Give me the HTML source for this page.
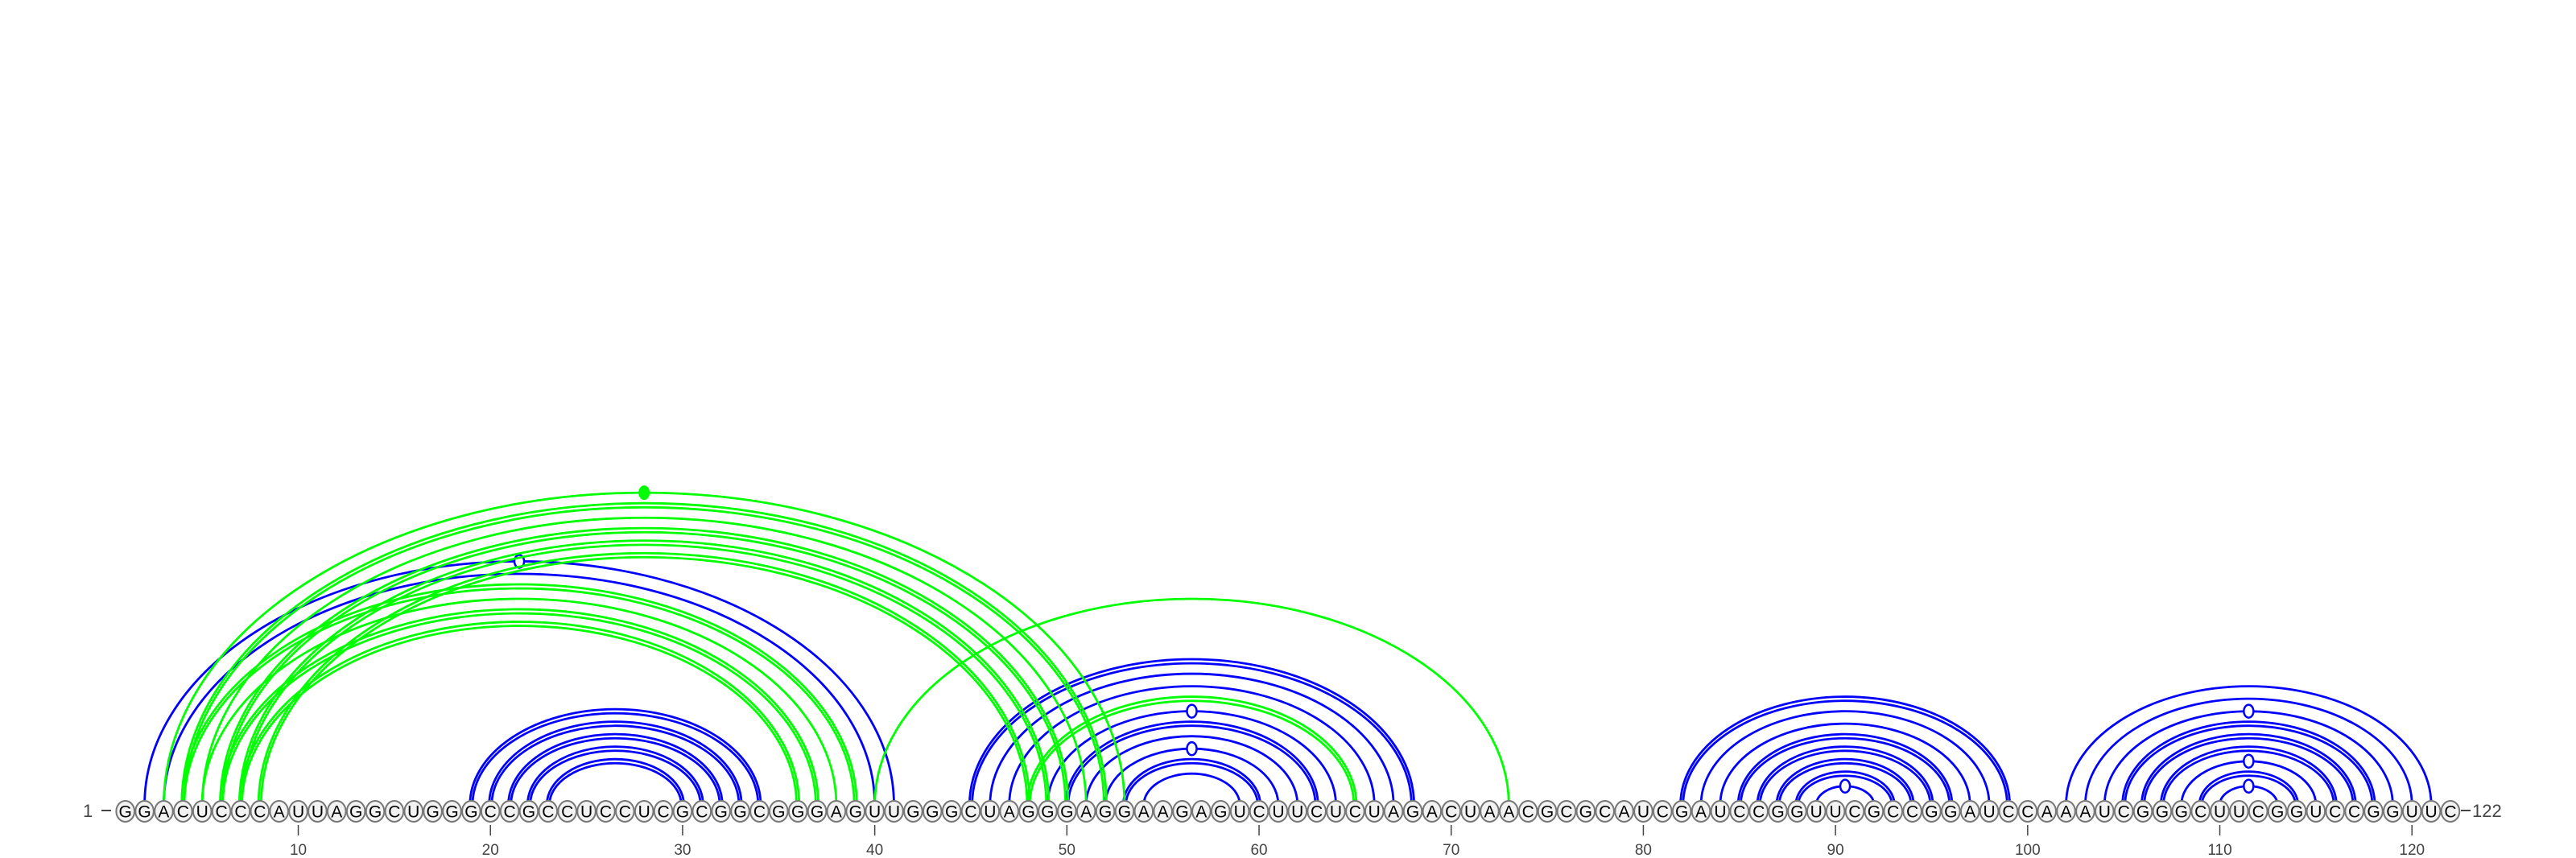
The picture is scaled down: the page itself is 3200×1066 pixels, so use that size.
<!DOCTYPE html>
<html><head><meta charset="utf-8"><style>
html,body{margin:0;padding:0;background:#fff;}
svg{display:block;}
</style></head><body>
<svg id="chart" width="3200" height="1066" viewBox="0 0 3200 1066" xmlns="http://www.w3.org/2000/svg">
<g id="arcs-blue"></g>
<g id="arcs-green"></g>
<g id="nts"></g>
<g id="ticks"></g>
<text x="103" y="1015" font-family="Liberation Sans, sans-serif" font-size="22" fill="#444">1</text>
<line x1="126" y1="1007" x2="138" y2="1007" stroke="#444" stroke-width="2"/>
<line x1="3057" y1="1007" x2="3069" y2="1007" stroke="#444" stroke-width="2"/>
<text x="3071" y="1015" font-family="Liberation Sans, sans-serif" font-size="22" fill="#444">122</text>
</svg>
<script>
const sequence = "GGACUCCCAUUAGGCUGGGCCGCCUCCUCGCGGCGGGAGUUGGGCUAGGGAGGAAGAGUCUUCUCUAGACUAACGCGCAUCGAUCCGGUUCGCCGGAUCCAAAUCGGGCUUCGGUCCGGUUC";
const blueI = [2,3,19,20,21,22,23,45,46,47,49,50,51,52,53,54,82,83,84,85,86,87,88,89,102,103,104,105,106,107,108,109,110];
const blueJ = [41,40,34,33,32,31,30,68,67,66,64,63,62,61,60,59,99,98,97,96,95,94,93,92,121,120,119,118,117,116,115,114,113];
const blueDouble = [0,0,1,1,1,1,1,1,0,0,0,1,0,0,1,0,1,0,0,1,1,1,1,0,0,0,0,1,1,1,0,1,0];
const greenI = [3,4,5,6,7,8,4,5,6,7,40,48];
const greenJ = [53,52,51,50,49,48,39,38,37,36,73,65];
const greenDouble = [0,1,0,1,1,1,1,0,1,1,0,1];
const tickValues = [10,20,30,40,50,60,70,80,90,100,110,120];

const NS="http://www.w3.org/2000/svg";
const X0=155.7, DX=23.87, BASE=1000, RATIO=0.65, NY=1008;
function xPos(i){return X0+(i-1)*DX;}
function isGU(a,b){const p=sequence[a-1]+sequence[b-1];return p==="GU"||p==="UG";}
function isCanon(a,b){const p=sequence[a-1]+sequence[b-1];return ["GC","CG","AU","UA","GU","UG"].includes(p);}
function arcPath(x1,x2,grow){
  const rx=(x2-x1)/2+grow, ry=(x2-x1)/2*RATIO+grow*1.6;
  return `M${x1-grow} ${BASE} A${rx} ${ry} 0 0 1 ${x2+grow} ${BASE}`;
}
function drawArcs(gid,I,J,D,color,prefix){
  const g=document.getElementById(gid);
  for(let k=0;k<I.length;k++){
    const x1=xPos(I[k]),x2=xPos(J[k]);
    const grows=D[k]?[-1.6,1.6]:[0];
    grows.forEach(gr=>{
      const p=document.createElementNS(NS,'path');
      p.setAttribute('d',arcPath(x1,x2,gr));
      p.setAttribute('fill','none');p.setAttribute('stroke',color);p.setAttribute('stroke-width','2.8');
      
      
      g.appendChild(p);
    });
    const cx=(x1+x2)/2, cy=BASE-(x2-x1)/2*RATIO;
    if(isGU(I[k],J[k])){
      const e=document.createElementNS(NS,'ellipse');
      e.setAttribute('cx',cx);e.setAttribute('cy',cy);e.setAttribute('rx',6);e.setAttribute('ry',8);
      e.setAttribute('fill','#fff');e.setAttribute('stroke',color);e.setAttribute('stroke-width','2.5');
      
      
      g.appendChild(e);
    } else if(!isCanon(I[k],J[k])){
      const e=document.createElementNS(NS,'ellipse');
      e.setAttribute('cx',cx);e.setAttribute('cy',cy);e.setAttribute('rx',7);e.setAttribute('ry',9);
      e.setAttribute('fill',color);
      
      
      g.appendChild(e);
    }
  }
}
drawArcs('arcs-blue',blueI,blueJ,blueDouble,'#0000ff','blue');
drawArcs('arcs-green',greenI,greenJ,greenDouble,'#00ff00','green');

const nts=document.getElementById('nts');
for(let i=1;i<=sequence.length;i++){
  const g=document.createElementNS(NS,'g');
  
  
  const e=document.createElementNS(NS,'ellipse');
  e.setAttribute('cx',xPos(i));e.setAttribute('cy',NY);e.setAttribute('rx',11.3);e.setAttribute('ry',13);
  e.setAttribute('fill','#f2f2f2');e.setAttribute('stroke','#777');e.setAttribute('stroke-width','2');
  g.appendChild(e);
  const t=document.createElementNS(NS,'text');
  t.setAttribute('x',xPos(i));t.setAttribute('y',NY+7.5);t.setAttribute('text-anchor','middle');
  t.setAttribute('font-family','Liberation Sans, sans-serif');t.setAttribute('font-size','21');t.setAttribute('fill','#000');
  t.textContent=sequence[i-1];
  g.appendChild(t);
  nts.appendChild(g);
}
const ticks=document.getElementById('ticks');
tickValues.forEach(v=>{
  const l=document.createElementNS(NS,'line');
  l.setAttribute('x1',xPos(v));l.setAttribute('x2',xPos(v));l.setAttribute('y1',1025);l.setAttribute('y2',1038);
  l.setAttribute('stroke','#444');l.setAttribute('stroke-width','1.5');
  
  
  ticks.appendChild(l);
  const t=document.createElementNS(NS,'text');
  t.setAttribute('x',xPos(v));t.setAttribute('y',1062);t.setAttribute('text-anchor','middle');
  t.setAttribute('font-family','Liberation Sans, sans-serif');t.setAttribute('font-size','19');t.setAttribute('fill','#444');
  
  
  t.textContent=v;
  ticks.appendChild(t);
});
</script>
</body></html>
